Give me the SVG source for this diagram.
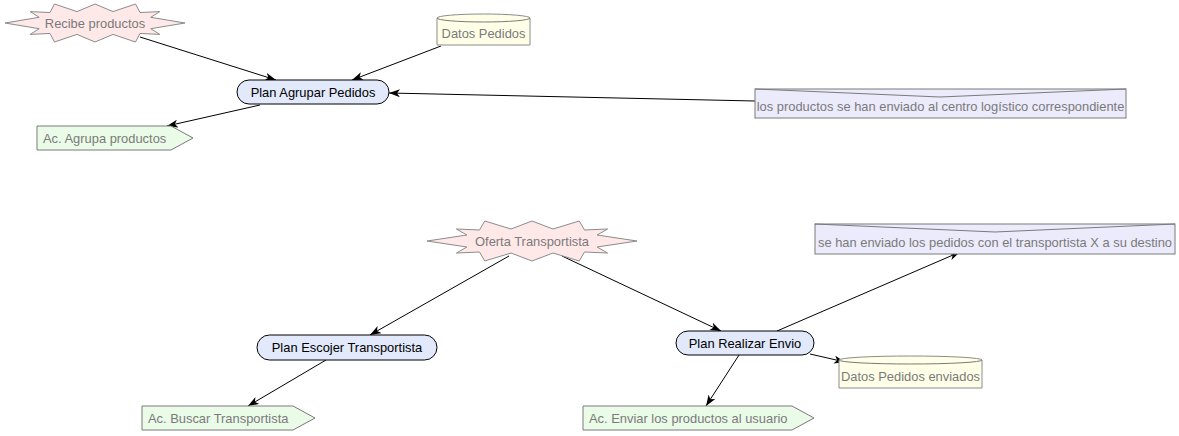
<svg xmlns="http://www.w3.org/2000/svg" width="1179" height="436" viewBox="0 0 1179 436">
<style>
.t{font-family:"Liberation Sans",Arial,sans-serif;font-size:12.9px;}
.g{fill:#7a7a7a;}
.k{fill:#000;}
.star{fill:#ffe8e8;stroke:#8c8c8c;stroke-width:1;}
.db{fill:#ffffe8;stroke:#8c8c8c;stroke-width:1;}
.plan{fill:#e2e9fb;stroke:#000;stroke-width:1;}
.act{fill:#eafbe8;stroke:#7a7a7a;stroke-width:1;}
.note{fill:#ebebfb;stroke:#7a7a7a;stroke-width:1;}
.noteV{fill:none;stroke:#7a7a7a;stroke-width:1;}
.c{fill:none;stroke:#000;stroke-width:1;marker-end:url(#ah);}
</style>
<defs>
<marker id="ah" markerUnits="userSpaceOnUse" markerWidth="12" markerHeight="10" refX="11" refY="4" orient="auto">
<path d="M0,0 L11,4 L0,8 L3,4 z" fill="#000"/>
</marker>
</defs>
<rect width="1179" height="436" fill="#fff"/>
<g id="connectors">
<line class="c" x1="140" y1="37" x2="276" y2="80"/>
<line class="c" x1="441" y1="46" x2="352" y2="80"/>
<line class="c" x1="755" y1="101" x2="389" y2="93"/>
<line class="c" x1="260" y1="105" x2="167" y2="126"/>
<line class="c" x1="509" y1="256" x2="370" y2="335"/>
<line class="c" x1="562" y1="256" x2="721" y2="331"/>
<line class="c" x1="777" y1="331" x2="960" y2="252"/>
<line class="c" x1="810" y1="354" x2="845" y2="362"/>
<line class="c" x1="326" y1="360" x2="248" y2="406"/>
<line class="c" x1="739" y1="355" x2="706" y2="406"/>
</g>
<g id="recibe_productos">
<polygon class="star" points="5,23 39.2,17.3 30.2,11.6 50,12.55 54.5,4 77,11.6 95,4 113,11.6 135.5,4 140,12.55 159.8,11.6 150.8,17.3 185,23 150.8,28.7 159.8,34.4 140,33.45 135.5,42 113,34.4 95,42 77,34.4 54.5,42 50,33.45 30.2,34.4 39.2,28.7"/>
<text class="t g" x="95" y="27.5" text-anchor="middle">Recibe productos</text>
</g>
<g id="datos_pedidos">
<path class="db" d="M437,18 A46.5,4 0 0 1 530,18 L530,45 L437,45 Z"/>
<path class="noteV" d="M437,18 A46.5,4 0 0 0 530,18" stroke="#8c8c8c"/>
<text class="t g" x="483.5" y="38" text-anchor="middle">Datos Pedidos</text>
</g>
<g id="plan_agrupar_pedidos">
<rect class="plan" x="237" y="80" width="152" height="24" rx="12" ry="12"/>
<text class="t k" x="313" y="96.5" text-anchor="middle">Plan Agrupar Pedidos</text>
</g>
<g id="ac_agrupa_productos">
<polygon class="act" points="37,126 171,126 193,138 171,150 37,150"/>
<text class="t g" x="43" y="142.5">Ac. Agrupa productos</text>
</g>
<g id="nota_centro_logistico">
<rect class="note" x="755" y="89" width="371" height="29"/>
<path class="noteV" d="M755,89 L940,97 L1126,89"/>
<text class="t g" x="940.5" y="110.5" text-anchor="middle">los productos se han enviado al centro logístico correspondiente</text>
</g>
<g id="oferta_transportista">
<polygon class="star" points="427,241 466.9,235 456.4,229 479.5,230 484.75,221 511,229 532,221 553,229 579.25,221 584.5,230 607.6,229 597.1,235 637,241 597.1,247 607.6,253 584.5,252 579.25,261 553,253 532,261 511,253 484.75,261 479.5,252 456.4,253 466.9,247"/>
<text class="t g" x="532" y="245.5" text-anchor="middle">Oferta Transportista</text>
</g>
<g id="nota_transportista">
<rect class="note" x="815" y="224" width="360" height="30"/>
<path class="noteV" d="M815,224 L995,232 L1175,224"/>
<text class="t g" x="995" y="246.5" text-anchor="middle">se han enviado los pedidos con el transportista X a su destino</text>
</g>
<g id="plan_escojer_transportista">
<rect class="plan" x="257" y="335" width="180" height="25" rx="12.5" ry="12.5"/>
<text class="t k" x="347" y="352" text-anchor="middle">Plan Escojer Transportista</text>
</g>
<g id="plan_realizar_envio">
<rect class="plan" x="676" y="331" width="138" height="24" rx="12" ry="12"/>
<text class="t k" x="745" y="347.5" text-anchor="middle">Plan Realizar Envio</text>
</g>
<g id="datos_pedidos_enviados">
<path class="db" d="M839,360 A71.5,4 0 0 1 982,360 L982,388 L839,388 Z"/>
<path class="noteV" d="M839,360 A71.5,4 0 0 0 982,360" stroke="#8c8c8c"/>
<text class="t g" x="910.5" y="381" text-anchor="middle">Datos Pedidos enviados</text>
</g>
<g id="ac_buscar_transportista">
<polygon class="act" points="142,406 293,406 315,418 293,430 142,430"/>
<text class="t g" x="148" y="422.5">Ac. Buscar Transportista</text>
</g>
<g id="ac_enviar_productos">
<polygon class="act" points="583,406 792,406 814,418 792,430 583,430"/>
<text class="t g" x="589" y="422.5">Ac. Enviar los productos al usuario</text>
</g>
</svg>
